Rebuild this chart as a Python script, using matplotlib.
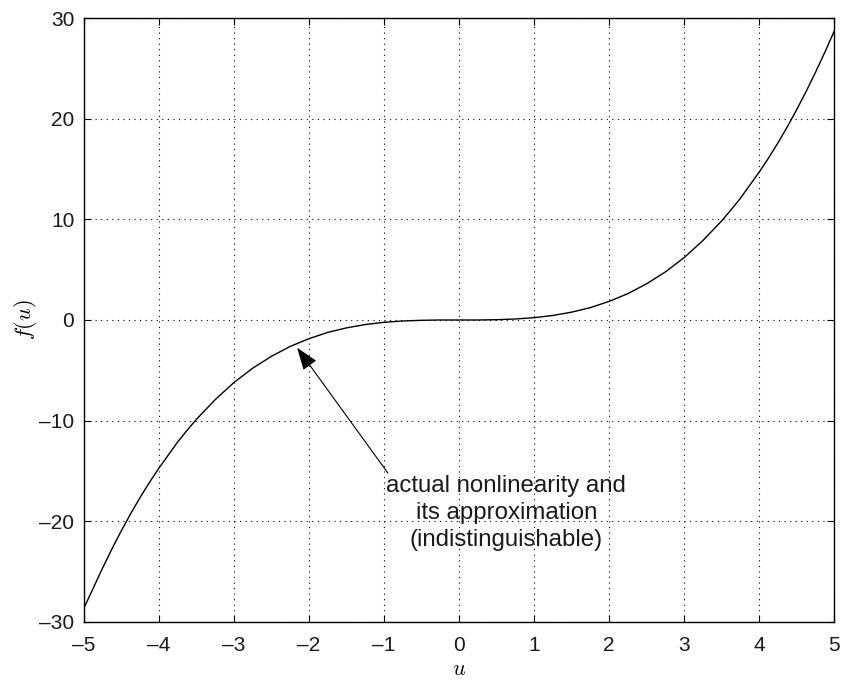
import matplotlib
matplotlib.use("Agg")
import matplotlib.pyplot as plt

u_values = [-5.0, -4.875, -4.75, -4.625, -4.5, -4.375, -4.25, -4.125, -4.0, -3.875,
            -3.75, -3.625, -3.5, -3.25, -3.0, -2.75, -2.5,
            -2.25, -2.0, -1.75, -1.5, -1.25, -1.0, -0.75, -0.5, -0.25, 0.0,
            0.25, 0.5, 0.75, 1.0, 1.25, 1.5, 1.75, 2.0, 2.25, 2.5,
            2.75, 3.0, 3.25, 3.5, 3.625, 3.75, 3.875, 4.0, 4.125, 4.25,
            4.375, 4.5, 4.625, 4.75, 4.875, 5.0]
f_values = [-28.6, -26.6, -24.6, -22.7, -20.9, -19.2, -17.6, -16.1, -14.7, -13.4,
            -12.1, -10.95, -9.85, -7.9, -6.2, -4.78, -3.6,
            -2.62, -1.85, -1.23, -0.78, -0.45, -0.23, -0.1, -0.03, 0.0, 0.0,
            0.0, 0.03, 0.1, 0.23, 0.45, 0.78, 1.23, 1.85, 2.62, 3.6,
            4.78, 6.2, 7.9, 9.85, 10.95, 12.1, 13.4, 14.7, 16.1, 17.6,
            19.2, 20.9, 22.7, 24.6, 26.6, 28.7]
x_ticks = [-5, -4, -3, -2, -1, 0, 1, 2, 3, 4, 5]
y_ticks = [-30, -20, -10, 0, 10, 20, 30]
annotation_text = "actual nonlinearity and\nits approximation\n(indistinguishable)"

plt.rcParams['font.family'] = ['Liberation Sans', 'DejaVu Sans']
plt.rcParams['mathtext.fontset'] = 'cm'

fig = plt.figure(figsize=(8.53, 6.82), dpi=100)
ax = fig.add_axes([0.0985, 0.088, 0.8795, 0.8856])

ax.plot(u_values, f_values, color='black', linewidth=1.0)
ax.set_xlim(-5, 5)
ax.set_ylim(-30, 30)
ax.set_xticks(x_ticks)
ax.set_yticks(y_ticks)
ax.set_xticklabels([str(t).replace('-', '\u2013') for t in x_ticks])
ax.set_yticklabels([str(t).replace('-', '\u2013') for t in y_ticks])
ax.tick_params(direction='in', length=5, width=0.8, top=True, right=True,
               labelsize=15, colors='black', labelcolor='#1a1a1a')
ax.tick_params(axis='x', pad=10)
ax.tick_params(axis='y', pad=7)
ax.grid(True, linestyle=(0, (1, 4)), color='black', linewidth=0.8)
for s in ax.spines.values():
    s.set_linewidth(1.0)

ax.set_xlabel(r'$u$', fontsize=16, labelpad=3)
ax.set_ylabel(r'$f(u)$', fontsize=16, labelpad=0)

ax.annotate('', xy=(-2.16, -2.75), xytext=(-0.95, -15.2),
            arrowprops=dict(arrowstyle='-|>,head_length=1.4,head_width=0.5',
                            color='black', linewidth=0.8, shrinkA=0, shrinkB=0))
ax.text(0.63, -19.2, annotation_text, ha='center', va='center', fontsize=17.3,
        color='#1a1a1a', linespacing=1.3)

fig.savefig('out.png', dpi=100)
